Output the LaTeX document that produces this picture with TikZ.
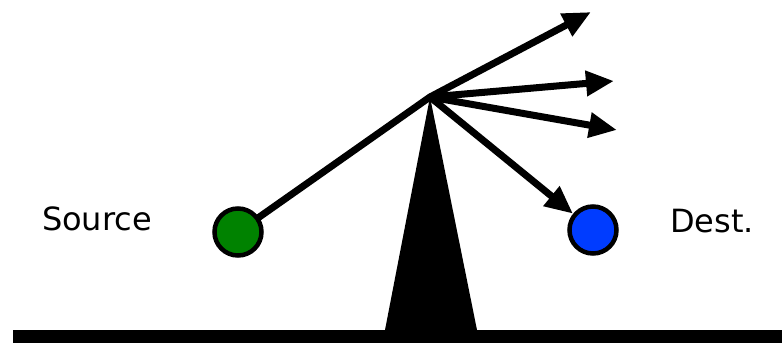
\documentclass[tikz,border=0pt]{standalone}
\usepackage{fontspec}
\setmainfont{DejaVu Sans}
\usetikzlibrary{arrows.meta}
\definecolor{srcgreen}{RGB}{0,130,0}
\definecolor{dstblue}{RGB}{0,60,255}
\begin{document}
\begin{tikzpicture}[x=1pt,y=1pt,
  ray/.style={line width=7pt,-{Triangle[length=28pt,width=24pt]}},
  seg/.style={line width=7pt},
  endpt/.style={circle,draw=black,line width=4.5pt,minimum size=47pt,inner sep=0pt},
  lbl/.style={font=\fontsize{32}{36}\selectfont}]
\useasboundingbox (0,0) rectangle (782,343);
% ground
\fill (13,0) rectangle (782,13);
% spike
\fill (385,13) -- (430,246) -- (477,13) -- cycle;
\coordinate (hit) at (430,246);
% nodes
\node[endpt,fill=srcgreen] (src) at (238,111) {};
\node[endpt,fill=dstblue] (dst) at (593,113) {};
\node[lbl] (srclbl) at (97,124) {Source};
\node[lbl] (dstlbl) at (712,122) {Dest.};
\coordinate (t1) at (591,331);
\coordinate (t2) at (614,262);
\coordinate (t3) at (617,213);
% rays
\draw[seg,line cap=round] (src) -- (hit);
\draw[ray] (hit) -- (t1);
\draw[ray] (hit) -- (t2);
\draw[ray] (hit) -- (t3);
\draw[ray] (hit) -- (dst);
\end{tikzpicture}
\end{document}
